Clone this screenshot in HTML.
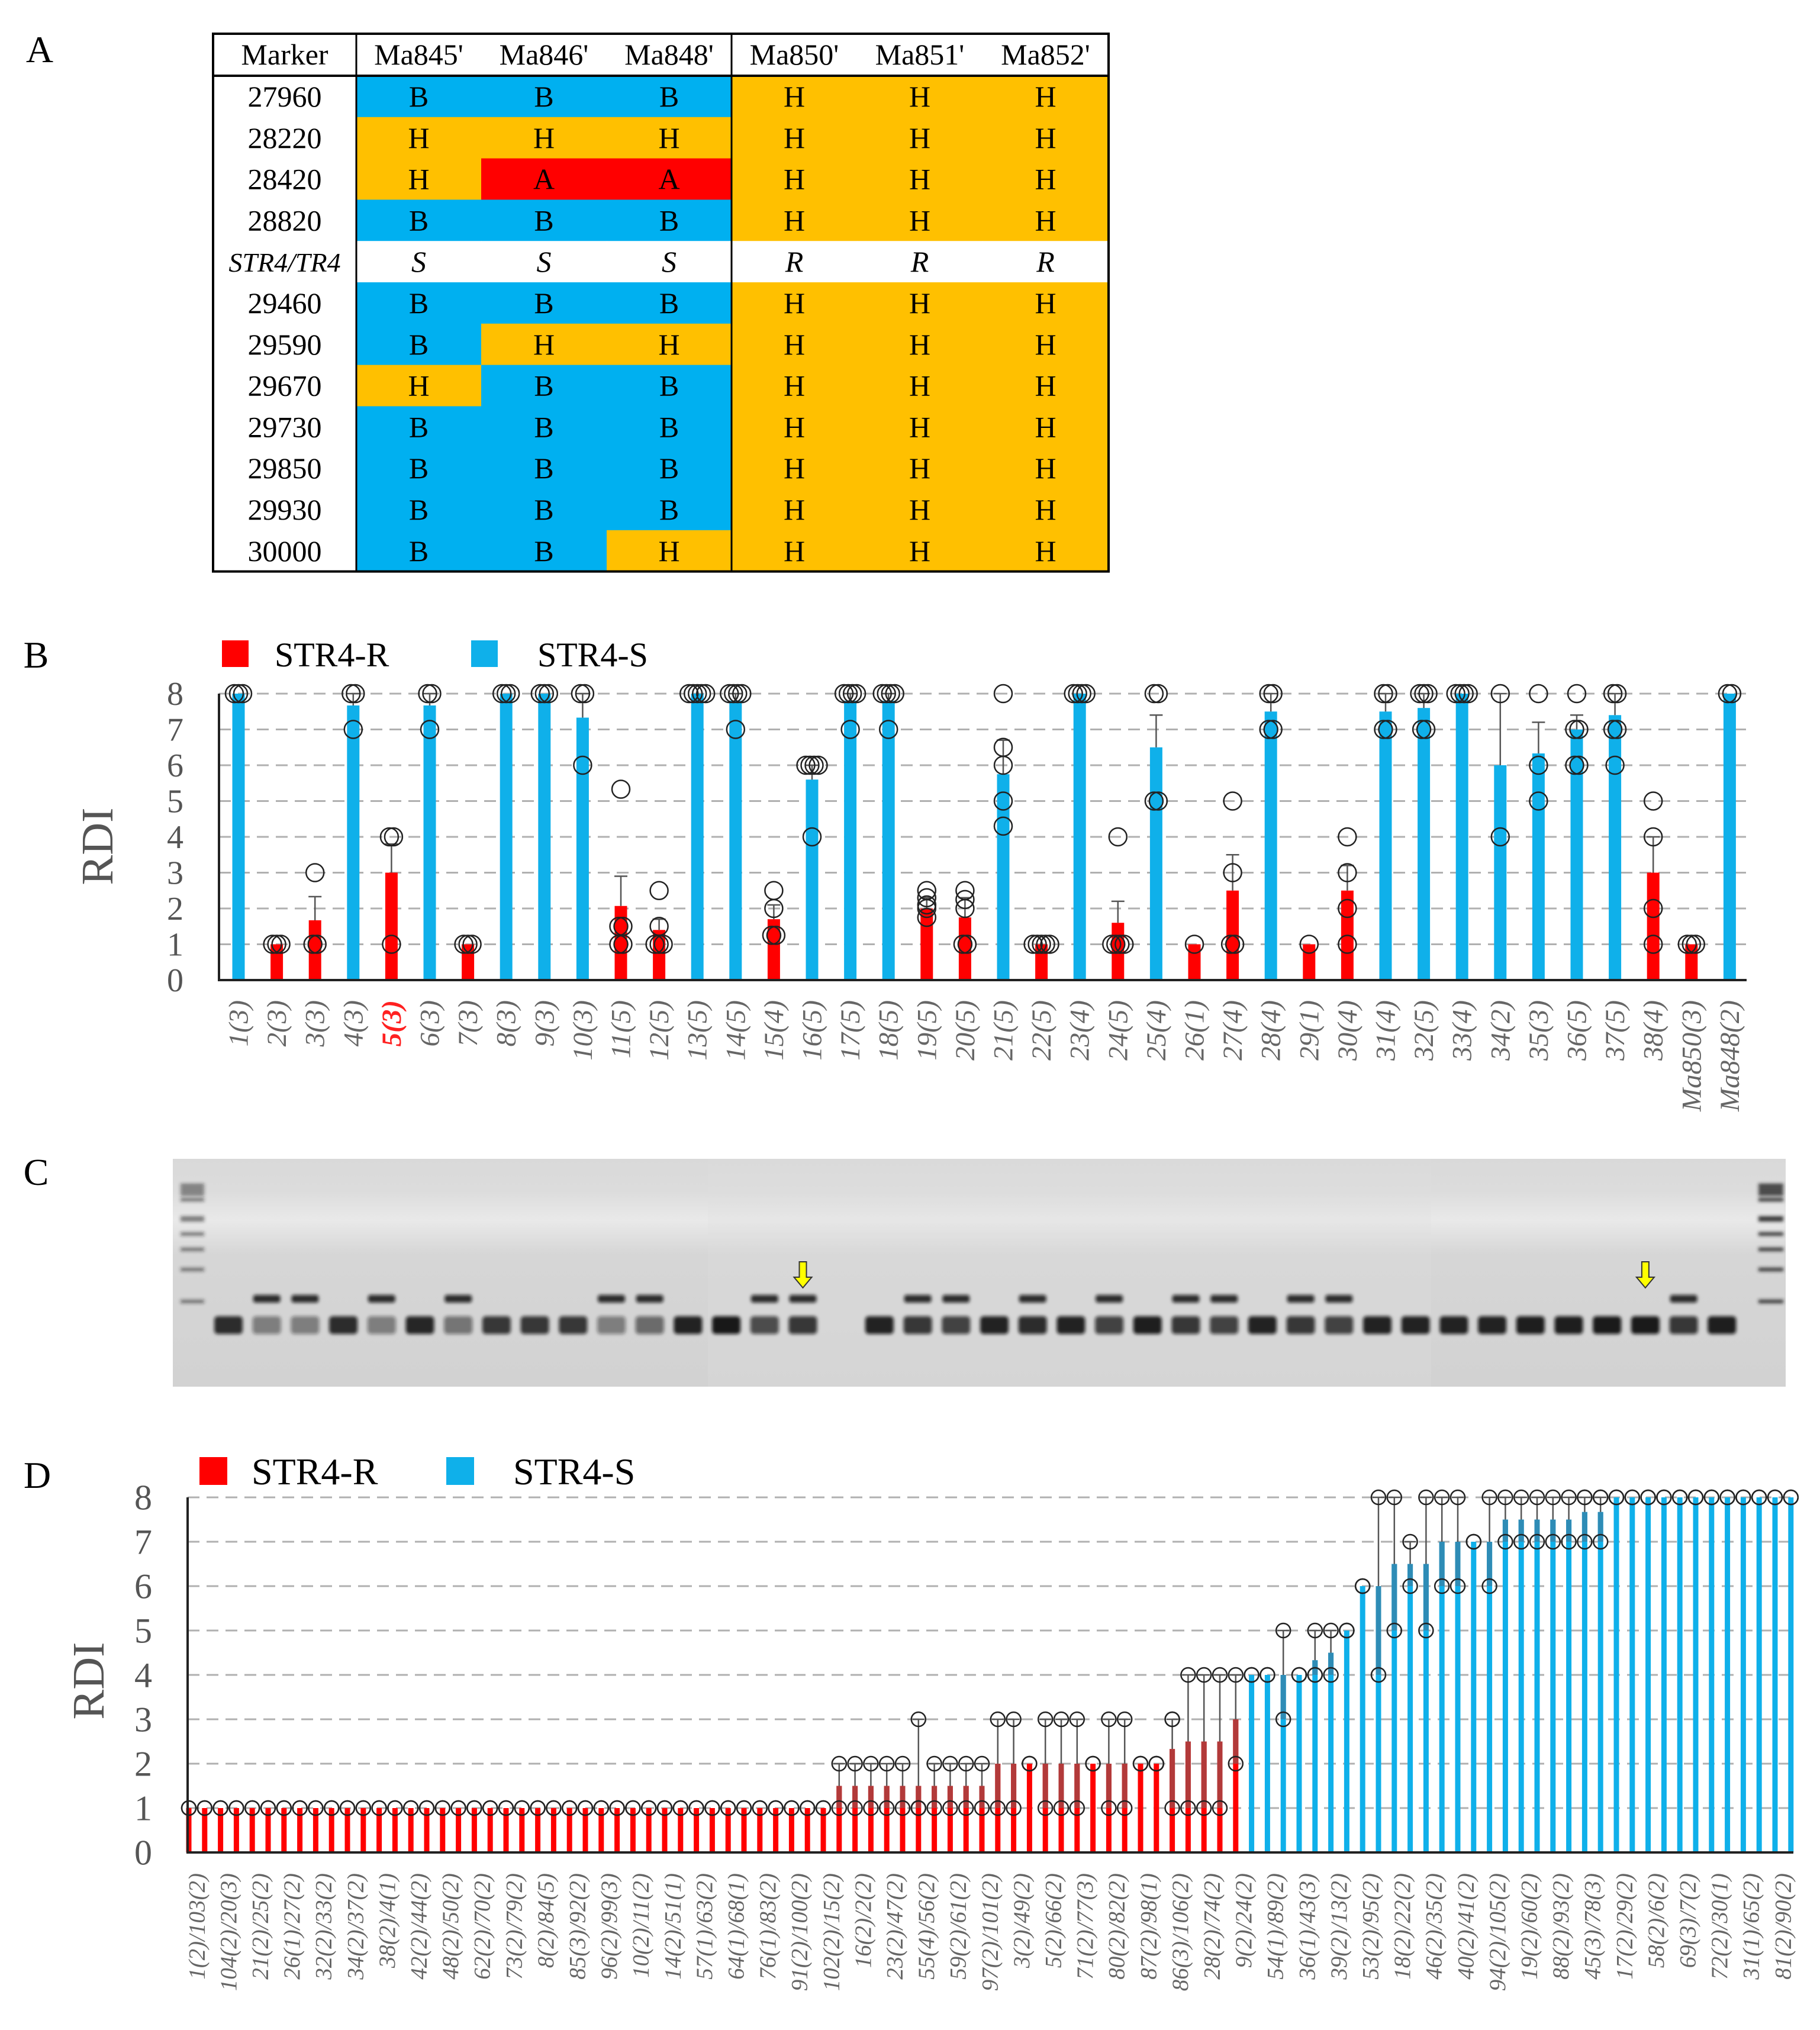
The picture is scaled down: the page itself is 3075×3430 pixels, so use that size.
<!DOCTYPE html>
<html><head><meta charset="utf-8"><style>
html,body{margin:0;padding:0;background:#fff;}
svg{display:block;font-family:"Liberation Serif",serif;}
</style></head><body>
<svg id="fig" width="3075" height="3430" viewBox="0 0 3075 3430" xmlns="http://www.w3.org/2000/svg">
<defs>
<filter id="blur" x="-20%" y="-50%" width="140%" height="200%"><feGaussianBlur stdDeviation="3"/></filter>
<linearGradient id="gelg" x1="0" y1="0" x2="0" y2="1">
<stop offset="0" stop-color="#d9d9d9"/><stop offset="0.14" stop-color="#dcdcdc"/><stop offset="0.27" stop-color="#e9e9e9"/><stop offset="0.42" stop-color="#d6d6d6"/><stop offset="1" stop-color="#d2d2d2"/>
</linearGradient>
<clipPath id="gelclip"><rect x="292" y="1958" width="2725" height="385"/></clipPath>
</defs>
<g id="panelA"></g>
<g id="panelB"></g>
<g id="panelC"></g>
<g id="panelD"></g>
</svg>
<script>
// ---------- Panel A data ----------
const tblHeaders = ["Marker","Ma845'","Ma846'","Ma848'","Ma850'","Ma851'","Ma852'"];
const tblMarkers = ["27960","28220","28420","28820","STR4/TR4","29460","29590","29670","29730","29850","29930","30000"];
const tblCalls = [
 ["B","B","B","H","H","H"],
 ["H","H","H","H","H","H"],
 ["H","A","A","H","H","H"],
 ["B","B","B","H","H","H"],
 ["S","S","S","R","R","R"],
 ["B","B","B","H","H","H"],
 ["B","H","H","H","H","H"],
 ["H","B","B","H","H","H"],
 ["B","B","B","H","H","H"],
 ["B","B","B","H","H","H"],
 ["B","B","B","H","H","H"],
 ["B","B","H","H","H","H"]
];
// ---------- Panel B data ----------
const bCats = ["1(3)","2(3)","3(3)","4(3)","5(3)","6(3)","7(3)","8(3)","9(3)","10(3)","11(5)","12(5)","13(5)","14(5)","15(4)","16(5)","17(5)","18(5)","19(5)","20(5)","21(5)","22(5)","23(4)","24(5)","25(4)","26(1)","27(4)","28(4)","29(1)","30(4)","31(4)","32(5)","33(4)","34(2)","35(3)","36(5)","37(5)","38(4)","Ma850(3)","Ma848(2)"];
const bGroup = ["S","R","R","S","R","S","R","S","S","S","R","R","S","S","R","S","S","S","R","R","S","R","S","R","S","R","R","S","R","R","S","S","S","S","S","S","S","R","R","S"];
const bMean = [8,1,1.67,7.67,3,7.67,1,8,8,7.33,2.07,1.4,8,7.8,1.7,5.6,7.8,7.8,2.0,1.75,5.75,1,8,1.6,6.5,1,2.5,7.5,1,2.5,7.5,7.6,8,6,6.33,7.0,7.4,3,1,8];
const bErr = [null,null,2.33,8,3.8,8,null,null,null,8,2.9,1.7,null,8,2.1,6,8,8,2.3,2.3,6.7,null,null,2.2,7.4,null,3.5,8,null,3.2,8,8,null,8,7.2,7.4,8,4,null,null];
const bPts = [[8,8,8],[1,1,1],[3,1,1],[8,8,7],[4,4,1],[8,8,7],[1,1,1],[8,8,8],[8,8,8],[8,8,6],
 [5.33,1.5,1.5,1,1],[2.5,1.5,1,1,1],[8,8,8,8,8],[8,8,8,8,7],[2.5,2,1.25,1.25],[6,6,6,6,4],[8,8,8,8,7],[8,8,8,8,7],[2.5,2.3,2.1,2,1.75],[2.5,2.25,2,1,1],
 [8,6.5,6,5,4.3],[1,1,1,1,1],[8,8,8,8],[4,1,1,1,1],[8,8,5,5],[1],[5,3,1,1],[8,8,7,7],[1],[4,3,2,1],
 [8,8,7,7],[8,8,8,7,7],[8,8,8,8],[8,4],[8,6,5],[8,7,7,6,6],[8,8,7,7,6],[5,4,2,1],[1,1,1],[8,8]];
const bTicks = ["0","1","2","3","4","5","6","7","8"];
// ---------- Panel C data ----------
const gelUpper = [0,1,1,0,1,0,1,0,0,0,1,1,0,0,1,1,0,0,1,1,0,1,0,1,0,1,1,0,1,1,0,0,0,0,0,0,0,0,1,0];
const gelLower = [0.85,0.45,0.45,0.85,0.45,0.88,0.5,0.8,0.8,0.8,0.45,0.55,0.9,0.95,0.7,0.8,0,0.9,0.8,0.75,0.9,0.85,0.9,0.75,0.92,0.8,0.75,0.9,0.8,0.75,0.9,0.9,0.9,0.9,0.92,0.92,0.94,0.94,0.8,0.92];
const gelArrows = [15,37];
// ---------- Panel D data ----------
const dLabels = ["1(2)/103(2)","104(2)/20(3)","21(2)/25(2)","26(1)/27(2)","32(2)/33(2)","34(2)/37(2)","38(2)/4(1)","42(2)/44(2)","48(2)/50(2)","62(2)/70(2)","73(2)/79(2)","8(2)/84(5)","85(3)/92(2)","96(2)/99(3)","10(2)/11(2)","14(2)/51(1)","57(1)/63(2)","64(1)/68(1)","76(1)/83(2)","91(2)/100(2)","102(2)/15(2)","16(2)/2(2)","23(2)/47(2)","55(4)/56(2)","59(2)/61(2)","97(2)/101(2)","3(2)/49(2)","5(2)/66(2)","71(2)/77(3)","80(2)/82(2)","87(2)/98(1)","86(3)/106(2)","28(2)/74(2)","9(2)/24(2)","54(1)/89(2)","36(1)/43(3)","39(2)/13(2)","53(2)/95(2)","18(2)/22(2)","46(2)/35(2)","40(2)/41(2)","94(2)/105(2)","19(2)/60(2)","88(2)/93(2)","45(3)/78(3)","17(2)/29(2)","58(2)/6(2)","69(3)/7(2)","72(2)/30(1)","31(1)/65(2)","81(2)/90(2)"];
const dMean = [1,1,1,1,1,1,1,1,1,1,1,1,1,1,1,1,1,1,1,1,1,1,1,1,1,1,1,1,1,1,1,1,1,1,1,1,1,1,1,1,1,
 1.5,1.5,1.5,1.5,1.5,1.5,1.5,1.5,1.5,1.5,
 2,2,2,2,2,2,2,2,2,2,2,2.33,2.5,2.5,2.5,3,
 4,4,4,4,4.33,4.5,5,6,6,6.5,6.5,6.5,7,7,7,7,7.5,7.5,7.5,7.5,7.5,7.67,7.67,
 8,8,8,8,8,8,8,8,8,8,8,8];
const dGroup = ["R","R","R","R","R","R","R","R","R","R","R","R","R","R","R","R","R","R","R","R","R","R","R","R","R","R","R","R","R","R","R","R","R","R","R","R","R","R","R","R","R",
 "R","R","R","R","R","R","R","R","R","R",
 "R","R","R","R","R","R","R","R","R","R","R","R","R","R","R","R",
 "S","S","S","S","S","S","S","S","S","S","S","S","S","S","S","S","S","S","S","S","S","S","S",
 "S","S","S","S","S","S","S","S","S","S","S","S"];
const dPts = [[1,1],[1,1],[1,1],[1,1],[1,1],[1,1],[1,1],[1,1],[1,1],[1,1],[1,1],[1,1],[1,1],[1,1],[1,1],[1,1],[1,1],[1,1],[1,1],[1,1],[1,1],[1,1],[1,1],[1,1],[1,1],[1,1],[1,1],[1,1],[1,1],[1,1],[1,1],[1,1],[1,1],[1,1],[1,1],[1,1],[1,1],[1,1],[1,1],[1,1],[1,1],
 [2,1],[2,1],[2,1],[2,1],[2,1],[3,1,1,1],[2,1],[2,1],[2,1],[2,1],
 [3,1],[3,1],[2,2],[3,1],[3,1],[3,1],[2,2],[3,1],[3,1],[2,2],[2,2],[3,3,1],[4,1],[4,1],[4,1],[4,2],
 [4,4],[4,4],[5,3],[4,4],[5,4,4],[5,4],[5,5],[6,6],[8,4],[8,5],[7,6],[8,5],[8,6],[8,6],[7,7],[8,6],[8,7],[8,7],[8,7],[8,7],[8,7],[8,7,8],[8,7,8],
 [8,8],[8,8],[8,8],[8,8],[8,8],[8,8],[8,8],[8,8],[8,8],[8,8],[8,8],[8,8]];
const dTicks = ["0","1","2","3","4","5","6","7","8"];

const NS = "http://www.w3.org/2000/svg";
function mk(tag, attrs, parent) {
  const e = document.createElementNS(NS, tag);
  for (const k in attrs) e.setAttribute(k, attrs[k]);
  parent.appendChild(e);
  return e;
}
const RED = "#ff0000", BLUE = "#0fb0ea", ORANGE = "#ffc000", TBLUE = "#00b0f0";

// ================= Panel A =================
(function () {
  const g = document.getElementById('panelA');
  const lab = mk('text', {x: 67, y: 105, 'font-size': 64, 'text-anchor': 'middle'}, g);
  
  
  lab.textContent = 'A';
  const colX = [360, 602, 813, 1025, 1236, 1448, 1660, 1873];
  const top = 57, hdrB = 128, rowH = 69.8;
  tblCalls.forEach((row, r) => {
    row.forEach((c, j) => {
      const col = c === 'B' ? TBLUE : c === 'H' ? ORANGE : c === 'A' ? RED : '#ffffff';
      const rc = mk('rect', {x: colX[j + 1], y: hdrB + r * rowH, width: colX[j + 2] - colX[j + 1] + 0.5, height: rowH + 0.5, fill: col}, g);
      
      
    });
  });
  tblHeaders.forEach((h, j) => {
    const t = mk('text', {x: (colX[j] + colX[j + 1]) / 2, y: top + 52, 'font-size': 50, 'text-anchor': 'middle'}, g);
    
    
    t.textContent = h;
  });
  tblMarkers.forEach((m, r) => {
    const yy = hdrB + r * rowH + 52;
    const isStr = m.indexOf('/') > 0;
    const t = mk('text', {x: (colX[0] + colX[1]) / 2, y: yy, 'font-size': isStr ? 46 : 50, 'text-anchor': 'middle', 'font-style': isStr ? 'italic' : 'normal'}, g);
    
    
    t.textContent = m;
    tblCalls[r].forEach((c, j) => {
      const t2 = mk('text', {x: (colX[j + 1] + colX[j + 2]) / 2, y: yy, 'font-size': 50, 'text-anchor': 'middle', 'font-style': (c === 'S' || c === 'R') ? 'italic' : 'normal'}, g);
      
      
      t2.textContent = c;
    });
  });
  const bottom = hdrB + tblCalls.length * rowH;
  mk('rect', {x: colX[0], y: top, width: colX[7] - colX[0], height: bottom - top, fill: 'none', stroke: '#000', 'stroke-width': 4}, g);
  mk('line', {x1: colX[0], x2: colX[7], y1: hdrB, y2: hdrB, stroke: '#000', 'stroke-width': 4}, g);
  mk('line', {x1: colX[1], x2: colX[1], y1: top, y2: bottom, stroke: '#000', 'stroke-width': 3}, g);
  mk('line', {x1: colX[4], x2: colX[4], y1: top, y2: bottom, stroke: '#000', 'stroke-width': 3}, g);
})();

// ================= Chart helper =================
function drawChart(cfg) {
  const g = document.getElementById(cfg.id);
  const y = v => cfg.y0 - v * cfg.unit;
  const x = i => cfg.xStart + i * cfg.step;
  const L = mk('text', {x: cfg.letterX, y: cfg.letterY, 'font-size': 64, 'text-anchor': 'middle'}, g);
  
  
  L.textContent = cfg.letter;
  const lr = mk('rect', {x: cfg.leg[0], y: cfg.legY, width: cfg.legS, height: cfg.legS, fill: RED}, g);
  
  
  const lt = mk('text', {x: cfg.leg[1], y: cfg.legY + cfg.legS - 1, 'font-size': cfg.legF}, g);
  
  
  lt.textContent = 'STR4-R';
  const lb = mk('rect', {x: cfg.leg[2], y: cfg.legY, width: cfg.legS, height: cfg.legS, fill: BLUE}, g);
  
  
  const lt2 = mk('text', {x: cfg.leg[3], y: cfg.legY + cfg.legS - 1, 'font-size': cfg.legF}, g);
  
  
  lt2.textContent = 'STR4-S';
  cfg.ticks.forEach((tk) => {
    const v = +tk;
    if (v > 0) {
      const gl = mk('line', {x1: cfg.axisX, x2: cfg.axisEnd, y1: y(v), y2: y(v), stroke: '#b0b0b0', 'stroke-width': 3, 'stroke-dasharray': '20 12'}, g);
      
      
    }
    const t = mk('text', {x: cfg.tickX, y: y(v) + cfg.tickF * 0.34, 'font-size': cfg.tickF, 'text-anchor': 'middle', fill: '#555'}, g);
    
    
    t.textContent = tk;
  });
  const yl = mk('text', {x: cfg.ylX, y: cfg.ylY, 'font-size': cfg.ylF, 'text-anchor': 'middle', fill: '#555', transform: `rotate(-90 ${cfg.ylX} ${cfg.ylY})`}, g);
  
  
  yl.textContent = 'RDI';
  cfg.mean.forEach((m, i) => {
    const col = cfg.group[i] === 'R' ? RED : BLUE;
    const dark = cfg.group[i] === 'R' ? '#b23a3a' : '#2e8cb6';
    const b = mk('rect', {x: x(i) - cfg.bw / 2, y: y(m), width: cfg.bw, height: y(0) - y(m), fill: col}, g);
    
    
    const mn = Math.min(...cfg.pts[i]);
    if (cfg.darken && mn < m - 0.05) {
      const d = mk('rect', {x: x(i) - cfg.bw / 2, y: y(m), width: cfg.bw, height: y(mn) - y(m), fill: dark}, g);
      
      
    }
  });
  cfg.mean.forEach((m, i) => {
    const hi = cfg.err ? cfg.err[i] : Math.max(...cfg.pts[i]);
    if (hi == null || hi <= m + 0.05) return;
    const e = mk('path', {d: `M${x(i)},${y(m)}V${y(hi)}M${x(i) - cfg.cap},${y(hi)}H${x(i) + cfg.cap}`, stroke: '#555', 'stroke-width': 2.5, fill: 'none'}, g);
    
    
  });
  cfg.pts.forEach((ps, i) => {
    const cnt = {};
    ps.forEach(v => { cnt[v] = (cnt[v] || 0) + 1; });
    const seen = {};
    ps.forEach(v => {
      const k = seen[v] = (seen[v] || 0) + 1;
      const off = (k - 1 - (cnt[v] - 1) / 2) * cfg.jit;
      const c = mk('circle', {cx: x(i) + off, cy: y(v), r: cfg.r, fill: 'none', stroke: '#222', 'stroke-width': 2.5}, g);
      
      
    });
  });
  const ax = mk('path', {d: `M${cfg.axisX},${y(8)}V${y(0)}H${cfg.axisEnd}`, stroke: '#222', 'stroke-width': 4, fill: 'none'}, g);
  
  
  cfg.labels.forEach((lbl, k) => {
    const lx = cfg.labelX(k) + cfg.labF * 0.33, ly = cfg.labY;
    const t = mk('text', {x: lx, y: ly, 'font-size': cfg.labF, 'text-anchor': 'end', 'font-style': 'italic', fill: (cfg.redLabel === k) ? '#ff2020' : '#666', 'font-weight': (cfg.redLabel === k) ? 'bold' : 'normal', transform: `rotate(-90 ${lx} ${ly})`}, g);
    
    
    t.textContent = lbl;
  });
}

drawChart({
  id: 'panelB', letter: 'B', letterX: 61, letterY: 1128,
  leg: [375, 464, 796, 908], legY: 1082, legS: 45, legF: 58,
  y0: 1656, unit: 60.5, xStart: 403, step: 64.6, axisX: 370, axisEnd: 2951,
  ticks: bTicks, tickX: 296, tickF: 56, ylX: 190, ylY: 1430, ylF: 76,
  mean: bMean, group: bGroup, pts: bPts, err: bErr, darken: false,
  bw: 21, cap: 11, r: 15, jit: 7,
  labels: bCats, labelX: k => 403 + k * 64.6, labY: 1690, labF: 47, redLabel: 4
});

drawChart({
  id: 'panelD', letter: 'D', letterX: 63, letterY: 2514,
  leg: [337, 425, 754, 867], legY: 2462, legS: 47, legF: 64,
  y0: 3130, unit: 75, xStart: 319, step: 26.8, axisX: 317, axisEnd: 3030,
  ticks: dTicks, tickX: 242, tickF: 60, ylX: 175, ylY: 2840, ylF: 76,
  mean: dMean, group: dGroup, pts: dPts, err: null, darken: true,
  bw: 9, cap: 10, r: 12, jit: 0,
  labels: dLabels, labelX: k => 319 + (2 * k + 0.5) * 26.8, labY: 3165, labF: 39, redLabel: -1
});

// ================= Panel C (gel) =================
(function () {
  const g = document.getElementById('panelC');
  const L = mk('text', {x: 61, y: 2002, 'font-size': 64, 'text-anchor': 'middle'}, g);
  
  
  L.textContent = 'C';
  const gg = mk('g', {'clip-path': 'url(#gelclip)'}, g);
  const bg = mk('rect', {x: 292, y: 1958, width: 2725, height: 385, fill: 'url(#gelg)'}, gg);
  
  
  mk('rect', {x: 1196, y: 1958, width: 1222, height: 385, fill: '#e0e0e0', opacity: 0.25}, gg);
  const laneX = i => 386 + i * 64.7;
  const bands = mk('g', {filter: 'url(#blur)'}, gg);
  const ladY = [2003, 2010, 2017, 2027, 2058, 2085, 2111, 2145, 2199];
  [[305, 40], [2971, 42]].forEach(([lx, w], n) => {
    ladY.forEach((yy, k) => {
      const r = mk('rect', {x: lx, y: yy - 3, width: w, height: k === 4 ? 9 : 6, fill: '#222', opacity: n === 0 ? 0.55 : 0.9}, bands);
      
      
    });
  });
  gelLower.forEach((d, i) => {
    if (d > 0) {
      const r = mk('rect', {x: laneX(i) - 24, y: 2224, width: 48, height: 30, rx: 6, fill: '#111', opacity: d}, bands);
      
      
    }
    if (gelUpper[i]) {
      const r2 = mk('rect', {x: laneX(i) - 23, y: 2188, width: 46, height: 13, rx: 4, fill: '#111', opacity: 0.85}, bands);
      
      
    }
  });
  gelArrows.forEach(i => {
    const ax = laneX(i), ay = 2132;
    const a = mk('path', {d: `M${ax - 6},${ay}h12v26h9l-15,18l-15,-18h9z`, fill: '#ffff00', stroke: '#333', 'stroke-width': 2}, g);
    
    
  });
})();
</script>
</body></html>
